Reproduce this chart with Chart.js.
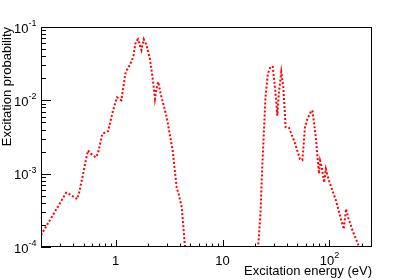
<!DOCTYPE html>
<html>
<head>
<meta charset="utf-8">
<script src="https://cdn.jsdelivr.net/npm/chart.js@4"></script>
<style>
  html, body { margin: 0; padding: 0; background: #fff; }
</style>
</head>
<body>
<canvas id="grafico" width="413" height="280"></canvas>
<script>
// low energy band (eV) and its excitation probability
const energiaBaixa = [0.2, 0.344, 0.383, 0.436, 0.459, 0.549, 0.59, 0.648, 0.68, 0.75, 0.85, 0.944, 1.03, 1.13,
  1.24, 1.35, 1.46, 1.54, 1.62, 1.74, 1.83, 1.94, 2.09, 2.24, 2.33, 2.41, 2.5, 2.63, 3.0, 3.41, 3.72, 3.85,
  4.15, 4.45, 4.6];
const probBaixa = [1.45e-4, 5.5e-4, 5.1e-4, 4.5e-4, 5.8e-4, 2.07e-3, 1.86e-3, 1.67e-3, 1.86e-3, 3.5e-3, 3.8e-3,
  7.3e-3, 1.1e-2, 1.0e-2, 2.44e-2, 3.0e-2, 3.9e-2, 6.3e-2, 6.8e-2, 4.84e-2, 6.8e-2, 5.7e-2, 3.7e-2, 1.78e-2,
  1.05e-2, 1.45e-2, 1.78e-2, 1.24e-2, 5.9e-3, 2.07e-3, 6.5e-4, 5.5e-4, 3.5e-4, 1.0e-4, 1.0e-5];

// high energy band
const energiaAlta = [20.9, 21.5, 22.6, 23.5, 24.3, 25.2, 26.5, 28.1, 29.5, 31.3, 32.5, 33.6, 35.4, 37, 38.9, 41.8,
  46.6, 53, 55.8, 59, 62.2, 66.8, 69.3, 74.5, 78.2, 80, 81.7, 84.8, 89.2, 92.5, 99, 115, 136, 143, 150, 165,
  190, 200];
const probAlta = [1.0e-5, 1.0e-4, 2.8e-4, 1.22e-3, 3.5e-3, 1.1e-2, 2.3e-2, 2.9e-2, 2.86e-2, 1.24e-2, 6.2e-3,
  1.24e-2, 2.44e-2, 1.52e-2, 4.3e-3, 4.2e-3, 2.83e-3, 1.58e-3, 1.53e-3, 4.3e-3, 5.6e-3, 6.9e-3, 7.3e-3, 3.14e-3,
  1.36e-3, 1.0e-3, 1.5e-3, 1.22e-3, 7.6e-4, 1.16e-3, 8.0e-4, 4.3e-4, 1.75e-4, 3.3e-4, 2.5e-4, 1.65e-4,
  1.0e-4, 6.0e-5];

// axis ranges and labelled ticks
const xMin = 0.2, xMax = 250;
const yMin = 1e-4, yMax = 1e-1;
const xLabels = [[1, '1', ''], [10, '10', ''], [100, '10', '2']];
const yLabels = [[1e-4, '10', '-4'], [1e-3, '10', '-3'], [1e-2, '10', '-2'], [1e-1, '10', '-1']];

const fonte = '"Liberation Sans", Arial, sans-serif';

function pontos(xs, ys) {
  return xs.map((v, i) => ({ x: v, y: ys[i] }));
}

// ticks 1..9 x 10^n, like a log axis in ROOT
function ticksLog(scale) {
  const lista = [];
  const e0 = Math.floor(Math.log10(scale.min)), e1 = Math.ceil(Math.log10(scale.max));
  for (let e = e0; e <= e1; e++) {
    for (let k = 1; k <= 9; k++) {
      const v = parseFloat((k * Math.pow(10, e)).toPrecision(6));
      if (v >= scale.min * 0.9999 && v <= scale.max * 1.0001) lista.push({ value: v, major: k === 1 });
    }
  }
  scale.ticks = lista;
}

const eixosRoot = {
  id: 'eixosRoot',
  afterDraw(chart) {
    const { ctx, chartArea: a, scales: { x, y } } = chart;
    ctx.save();
    ctx.strokeStyle = '#000';
    ctx.lineWidth = 1;
    ctx.strokeRect(a.left + 0.5, a.top + 0.5, a.right - a.left - 1, a.bottom - a.top - 1);
    ctx.beginPath();
    y.ticks.forEach(t => {
      const py = Math.round(y.getPixelForValue(t.value)) + 0.5;
      ctx.moveTo(a.left, py);
      ctx.lineTo(a.left + (t.major ? 10 : 5), py);
    });
    x.ticks.forEach(t => {
      const px = Math.round(x.getPixelForValue(t.value)) + 0.5;
      ctx.moveTo(px, a.bottom);
      ctx.lineTo(px, a.bottom - (t.major ? 7 : 3.5));
    });
    ctx.stroke();

    ctx.fillStyle = '#000';
    ctx.textBaseline = 'alphabetic';
    ctx.textAlign = 'left';
    const fBase = '13px ' + fonte, fSup = '9px ' + fonte;
    yLabels.forEach(([v, base, sup]) => {
      const py = y.getPixelForValue(v);
      ctx.font = fBase; const w1 = ctx.measureText(base).width;
      ctx.font = fSup; const w2 = ctx.measureText(sup).width;
      const x0 = a.left - 4.5 - w1 - w2;
      ctx.font = fBase; ctx.fillText(base, x0, py + 5.5);
      ctx.font = fSup; ctx.fillText(sup, x0 + w1, py - 1);
    });
    xLabels.forEach(([v, base, sup]) => {
      const px = x.getPixelForValue(v);
      ctx.font = fBase; const w1 = ctx.measureText(base).width;
      ctx.font = fSup; const w2 = sup ? ctx.measureText(sup).width : 0;
      const x0 = px - (w1 + w2) / 2;
      ctx.font = fBase; ctx.fillText(base, x0, a.bottom + 17.5);
      if (sup) { ctx.font = fSup; ctx.fillText(sup, x0 + w1, a.bottom + 11); }
    });
    ctx.restore();
  }
};

const estiloLinha = {
  borderColor: '#ff0000',
  borderWidth: 2,
  borderDash: [2, 2],
  pointRadius: 0,
  tension: 0,
  fill: false
};

new Chart(document.getElementById('grafico'), {
  type: 'line',
  data: {
    datasets: [
      { label: 'baixa', data: pontos(energiaBaixa, probBaixa), ...estiloLinha },
      { label: 'alta', data: pontos(energiaAlta, probAlta), ...estiloLinha }
    ]
  },
  options: {
    responsive: false,
    animation: false,
    layout: { padding: { top: 27, right: 41, bottom: 0, left: 0 } },
    plugins: { legend: { display: false }, tooltip: { enabled: false } },
    scales: {
      x: {
        type: 'logarithmic',
        min: xMin,
        max: xMax,
        grid: { display: false, drawTicks: false },
        border: { display: false },
        ticks: { display: false },
        afterBuildTicks: ticksLog,
        afterFit: s => { s.height = 33; },
        title: {
          display: true,
          text: 'Excitation energy (eV)',
          align: 'end',
          color: '#000',
          font: { family: fonte, size: 13 },
          padding: { top: 0, bottom: 1 }
        }
      },
      y: {
        type: 'logarithmic',
        min: yMin,
        max: yMax,
        grid: { display: false, drawTicks: false },
        border: { display: false },
        ticks: { display: false },
        afterBuildTicks: ticksLog,
        afterFit: s => { s.width = 41; },
        title: {
          display: true,
          text: 'Excitation probability',
          align: 'end',
          color: '#000',
          font: { family: fonte, size: 13 },
          padding: { top: 0, bottom: 0 }
        }
      }
    }
  },
  plugins: [eixosRoot]
});
</script>
</body>
</html>
